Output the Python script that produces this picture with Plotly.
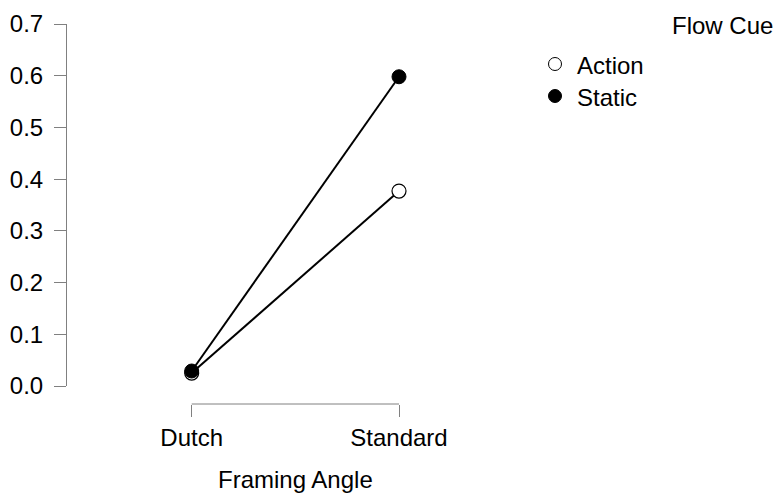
import plotly.graph_objects as go

categories = ["Dutch", "Standard"]
cat_pos = [0, 1]
action_vals = [0.025, 0.377]
static_vals = [0.029, 0.598]
y_ticks = [0.0, 0.1, 0.2, 0.3, 0.4, 0.5, 0.6, 0.7]
legend_title = "Flow Cue"
series_names = ["Action", "Static"]

FONT = "Liberation Sans, Arial, sans-serif"
GRAY = "#808080"
FS = 24

W, H = 776, 493
ML, MR, MT, MB = 67, 253, 24, 89
PW = W - ML - MR
PH = H - MT - MB


def px_x(p):
    return (p - ML) / PW


def px_y(p):
    return (H - MB - p) / PH


fig = go.Figure()
fig.add_trace(go.Scatter(
    x=cat_pos, y=action_vals, mode="lines+markers", name=series_names[0],
    line=dict(color="black", width=2),
    marker=dict(size=14, color="white", line=dict(color="black", width=1.2)),
    showlegend=False, cliponaxis=False))
fig.add_trace(go.Scatter(
    x=cat_pos, y=static_vals, mode="lines+markers", name=series_names[1],
    line=dict(color="black", width=2),
    marker=dict(size=14, color="black", line=dict(color="black", width=1)),
    showlegend=False, cliponaxis=False))

scale = (399 - 191.7)
x0 = -(191.7 - ML) / scale
x1 = 1 + (ML + PW - 399) / scale

fig.update_layout(
    template="none",
    width=W, height=H,
    margin=dict(l=ML, r=MR, t=MT, b=MB, pad=0),
    paper_bgcolor="white", plot_bgcolor="white",
    font=dict(family=FONT, size=FS, color="black"),
    xaxis=dict(range=[x0, x1], tickvals=cat_pos, ticktext=categories,
               anchor="free", position=0, showline=False, showgrid=False,
               zeroline=False, ticks="outside", ticklen=12, tickwidth=1,
               automargin=False,
               tickcolor=GRAY, tickfont=dict(size=FS, color="black")),
    yaxis=dict(range=[0, 0.7], domain=[(H - MB - 386) / PH, 1],
               tickvals=y_ticks, tickformat=".1f", showline=True,
               linecolor=GRAY, linewidth=1, showgrid=False, zeroline=False,
               ticks="outside", ticklen=12, tickwidth=1, tickcolor=GRAY,
               automargin=False,
               ticklabelstandoff=6, tickfont=dict(size=FS, color="black")),
    showlegend=False,
)

fig.add_shape(type="line", xref="x", yref="paper", x0=cat_pos[0], x1=cat_pos[-1],
              y0=0, y1=0, line=dict(color=GRAY, width=1))

fig.add_annotation(text="Framing Angle", xref="x", yref="paper",
                   x=(cat_pos[0] + cat_pos[-1]) / 2, y=px_y(479),
                   showarrow=False, xanchor="center", yanchor="middle",
                   font=dict(size=FS, color="black"))

fig.add_annotation(text=legend_title, xref="paper", yref="paper",
                   x=px_x(670), y=px_y(25), showarrow=False,
                   xanchor="left", yanchor="middle", font=dict(size=FS))
leg_y = [65, 97]
fills = ["white", "black"]
for name, yy, fc in zip(series_names, leg_y, fills):
    fig.add_annotation(text=name, xref="paper", yref="paper",
                       x=px_x(575), y=px_y(yy), showarrow=False,
                       xanchor="left", yanchor="middle", font=dict(size=FS))
    fig.add_shape(type="circle", xref="paper", yref="paper",
                  xsizemode="pixel", ysizemode="pixel",
                  xanchor=px_x(555), yanchor=px_y(yy - 1),
                  x0=-6.5, x1=6.5, y0=-6.5, y1=6.5,
                  fillcolor=fc, line=dict(color="black", width=1))

fig.write_html("out.html", config={"displayModeBar": False},
               post_script="document.body.style.margin='0';document.body.style.padding='0';")
